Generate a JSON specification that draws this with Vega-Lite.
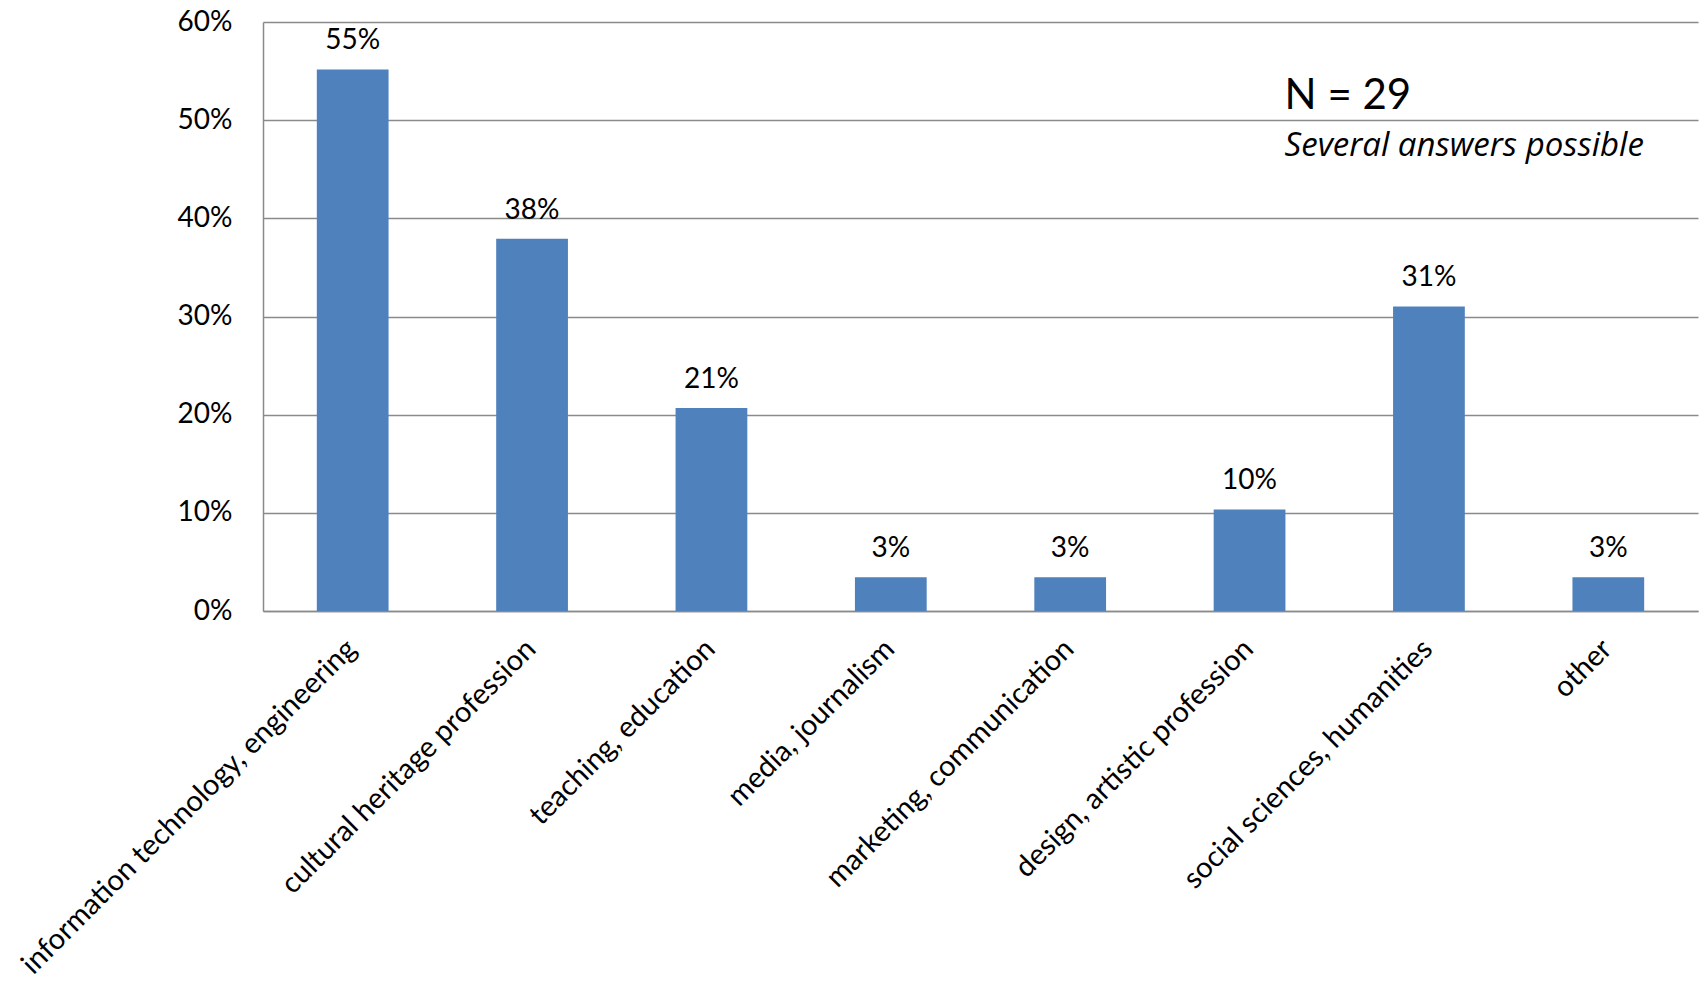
{
  "$schema": "https://vega.github.io/schema/vega-lite/v6.json",
  "autosize": {"type": "none"},
  "padding": {"left": 263, "top": 22, "right": 4, "bottom": 378},
  "width": 1435,
  "height": 589,
  "background": "white",
  "config": {
    "view": {"stroke": null},
    "font": "Lato",
    "axis": {"labelFont": "Lato", "labelColor": "#000000", "labelFontSize": 28}
  },
  "datasets": {
    "bars": [
      {"category": "information technology, engineering", "share": 0.5517},
      {"category": "cultural heritage profession", "share": 0.3793},
      {"category": "teaching, education", "share": 0.2069},
      {"category": "media, journalism", "share": 0.0345},
      {"category": "marketing, communication", "share": 0.0345},
      {"category": "design, artistic profession", "share": 0.1034},
      {"category": "social sciences, humanities", "share": 0.3103},
      {"category": "other", "share": 0.0345}
    ],
    "notes": [
      {"category": "design, artistic profession", "pos": 0.511, "note": "N = 29", "kind": "n"},
      {"category": "design, artistic profession", "pos": 0.464, "note": "Several answers possible", "kind": "s"}
    ]
  },
  "layer": [
    {
      "data": {"name": "bars"},
      "mark": {"type": "bar", "color": "#4F81BD"},
      "encoding": {
        "x": {
          "field": "category", "type": "nominal", "sort": null,
          "scale": {"paddingInner": 0.6, "paddingOuter": 0.3},
          "axis": {
            "title": null, "labelAngle": -45, "labelAlign": "right", "labelBaseline": "top",
            "labelPadding": 23, "labelOffset": -11, "labelFontSize": 29, "ticks": false,
            "domainColor": "#8a8a8a", "domainWidth": 1.5,
            "labelLimit": 0, "labelOverlap": false
          }
        },
        "y": {
          "field": "share", "type": "quantitative",
          "scale": {"domain": [0, 0.6], "nice": false},
          "axis": {
            "title": null, "format": ".0%", "values": [0, 0.1, 0.2, 0.3, 0.4, 0.5, 0.6],
            "ticks": false, "labelPadding": 31, "gridColor": "#8a8a8a", "gridWidth": 1.5,
            "domainColor": "#8a8a8a", "domainWidth": 1.5
          }
        }
      }
    },
    {
      "data": {"name": "bars"},
      "mark": {"type": "text", "fontSize": 28, "font": "Lato", "color": "#000000", "baseline": "alphabetic", "dy": -20},
      "encoding": {
        "x": {"field": "category", "type": "nominal", "sort": null},
        "y": {"field": "share", "type": "quantitative"},
        "text": {"field": "share", "type": "quantitative", "format": ".0%"}
      }
    },
    {
      "data": {"name": "notes"},
      "transform": [{"filter": "datum.kind == 'n'"}],
      "mark": {"type": "text", "fontSize": 42, "font": "Lato", "color": "#000000", "align": "left", "baseline": "alphabetic", "dx": 35},
      "encoding": {
        "x": {"field": "category", "type": "nominal", "sort": null},
        "y": {"field": "pos", "type": "quantitative"},
        "text": {"field": "note"}
      }
    },
    {
      "data": {"name": "notes"},
      "transform": [{"filter": "datum.kind == 's'"}],
      "mark": {"type": "text", "fontSize": 33, "font": "Open Sans", "fontStyle": "italic", "color": "#000000", "align": "left", "baseline": "alphabetic", "dx": 35},
      "encoding": {
        "x": {"field": "category", "type": "nominal", "sort": null},
        "y": {"field": "pos", "type": "quantitative"},
        "text": {"field": "note"}
      }
    }
  ]
}
